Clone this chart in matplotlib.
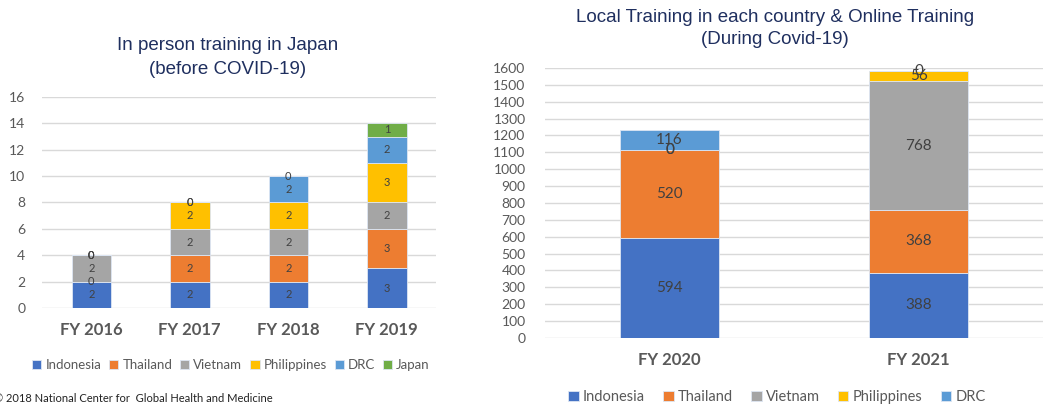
import numpy as np
import matplotlib.pyplot as plt

# data - left chart (in person training in Japan)
years_before = ["FY 2016", "FY 2017", "FY 2018", "FY 2019"]
indonesia_b = [2, 2, 2, 3]
thailand_b = [0, 2, 2, 3]
vietnam_b = [2, 2, 2, 2]
philippines_b = [0, 2, 2, 3]
drc_b = [0, 0, 2, 2]
japan_b = [0, 0, 0, 1]

# data - right chart (local + online training)
years_during = ["FY 2020", "FY 2021"]
indonesia_d = [594, 388]
thailand_d = [520, 368]
vietnam_d = [0, 768]
philippines_d = [0, 56]
drc_d = [116, 0]

countries = ["Indonesia", "Thailand", "Vietnam", "Philippines", "DRC", "Japan"]
colors = ["#4472C4", "#ED7D31", "#A5A5A5", "#FFC000", "#5B9BD5", "#70AD47"]

TITLE_C = "#1F2F5F"
TICK_C = "#595959"
LABEL_C = "#404040"
GRID_C = "#D9D9D9"
BODY = ["Lato", "DejaVu Sans"]
HEAD = ["Liberation Sans", "DejaVu Sans"]

fig = plt.figure(figsize=(10.43, 4.08), dpi=100)


def stacked(ax, cats, series, ymax, step, width=0.4, fs=8):
    x = np.arange(len(cats))
    bottom = np.zeros(len(cats))
    handles = []
    for vals, col, name in series:
        vals = np.array(vals, dtype=float)
        bars = ax.bar(x, vals, width, bottom=bottom, color=col, label=name,
                      edgecolor="#DDE6F3", linewidth=0.6, zorder=3)
        ax.bar_label(bars, labels=[str(int(v)) for v in vals], label_type="center",
                     color=LABEL_C, fontsize=fs, family=BODY, zorder=4)
        bottom += vals
        handles.append(bars)
    ax.set_xlim(-0.5, len(cats) - 0.5)
    ax.set_ylim(0, ymax)
    ax.set_yticks(np.arange(0, ymax + step, step))
    ax.set_xticks(x)
    ax.set_xticklabels(cats, fontsize=12, fontweight="bold", color=TICK_C, family=BODY)
    for lab in ax.get_yticklabels():
        lab.set_family(BODY)
    ax.tick_params(axis="y", length=0, labelsize=10, labelcolor=TICK_C, pad=12)
    ax.tick_params(axis="x", length=0, pad=10)
    ax.grid(axis="y", color=GRID_C, linewidth=1, zorder=0)
    for s in ax.spines.values():
        s.set_visible(False)
    return handles


# left chart
ax1 = fig.add_axes([0.0403, 0.2451, 0.3778, 0.5172])
left_series = list(zip([indonesia_b, thailand_b, vietnam_b, philippines_b, drc_b, japan_b],
                       colors, countries))
h1 = stacked(ax1, years_before, left_series, 16, 2, fs=8)
fig.text(228 / 1043, 1 - 45 / 408, "In person training in Japan", ha="center", va="center",
         fontsize=13.5, color=TITLE_C, family=HEAD)
fig.text(228 / 1043, 1 - 70 / 408, "(before COVID-19)", ha="center", va="center",
         fontsize=13.5, color=TITLE_C, family=HEAD)
fig.legend(handles=h1, labels=countries, loc="center", bbox_to_anchor=(231 / 1043, 1 - 365 / 408),
           ncol=6, frameon=False, handlelength=0.7, handleheight=0.7, handletextpad=0.3,
           columnspacing=0.6, prop={"family": BODY, "size": 9.5}, labelcolor=TICK_C)

# right chart
ax2 = fig.add_axes([0.5225, 0.1716, 0.4775, 0.6618])
right_series = list(zip([indonesia_d, thailand_d, vietnam_d, philippines_d, drc_d],
                        colors[:5], countries[:5]))
h2 = stacked(ax2, years_during, right_series, 1600, 100, fs=11)
ax2.tick_params(axis="y", pad=14)
fig.text(775 / 1043, 1 - 17 / 408, "Local Training in each country & Online Training", ha="center",
         va="center", fontsize=13.5, color=TITLE_C, family=HEAD)
fig.text(775 / 1043, 1 - 40 / 408, "(During Covid-19)", ha="center", va="center",
         fontsize=13.5, color=TITLE_C, family=HEAD)
fig.legend(handles=h2, labels=countries[:5], loc="center", bbox_to_anchor=(777 / 1043, 1 - 397 / 408),
           ncol=5, frameon=False, handlelength=0.7, handleheight=0.7, handletextpad=0.3,
           columnspacing=1.25, prop={"family": BODY, "size": 10.5}, labelcolor=TICK_C)

# footnote
fig.text(-6 / 1043, 1 - 398 / 408, "\u00a9 2018 National Center for  Global Health and Medicine",
         ha="left", va="center", fontsize=8, color="#222222", family=BODY)

fig.savefig("out.png", dpi=100)
